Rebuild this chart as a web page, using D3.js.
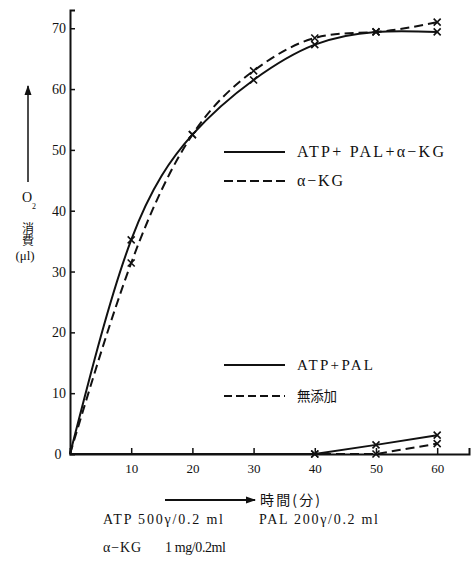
<!DOCTYPE html>
<html>
<head>
<meta charset="utf-8">
<script src="https://cdn.jsdelivr.net/npm/d3@7"></script>
<style>
  body { margin: 0; background: #fff; }
  svg text { fill: #111; }
  .serif { font-family: "Liberation Serif", "DejaVu Serif", serif; }
  .cjk { font-family: "Noto Sans CJK JP", sans-serif; }
</style>
</head>
<body>
<div id="graph"></div>
<script>
"use strict";

// measured time points (min)
let times = [0, 10, 20, 30, 40, 50, 60];
let fullValues = [0, 35.2, 52.5, 61.5, 67.3, 69.4, 69.4];   // ATP+PAL+α-KG
let akgValues = [0, 31.4, 52.5, 63.0, 68.4, 69.4, 71.0];    // α-KG
let lateTimes = [0, 40, 50, 60];
let atpPalValues = [0, 0, 1.5, 3.1];                        // ATP+PAL
let noneValues = [0, 0, 0, 1.7];                            // 無添加

let xTicks = [10, 20, 30, 40, 50, 60];
let yTicks = [10, 20, 30, 40, 50, 60, 70];

let width = 475;
let height = 563;

let translateStr = (x, y) => 'translate(' + x + ', ' + y + ')';

let x = d3.scaleLinear().domain([0, 65.2]).range([70, 469]);
let y = d3.scaleLinear().domain([0, 73]).range([454, 10]);

let svg = d3.select('#graph')
  .append('svg')
  .attr('width', width)
  .attr('height', height);

let defs = svg.append('defs');
defs.append('marker')
  .attr('id', 'head')
  .attr('viewBox', '0 0 10 10')
  .attr('refX', 9)
  .attr('refY', 5)
  .attr('markerWidth', 10)
  .attr('markerHeight', 10)
  .attr('markerUnits', 'userSpaceOnUse')
  .attr('orient', 'auto')
  .append('path')
  .attr('d', 'M0,1.5 L10,5 L0,8.5 Z')
  .attr('fill', '#111');

// axes
let xAxis = svg.append('g')
  .attr('transform', translateStr(0, y(0)))
  .call(d3.axisBottom(x).tickValues(xTicks).tickSize(-6).tickPadding(10).tickFormat(d3.format('d')));

let yAxis = svg.append('g')
  .attr('transform', translateStr(x(0), 0))
  .call(d3.axisLeft(y).tickValues(yTicks).tickSize(-5).tickPadding(4).tickFormat(d3.format('d')));

[xAxis, yAxis].forEach(g => {
  g.select('.domain').attr('stroke', '#111').attr('stroke-width', 2);
  g.selectAll('.tick line').attr('stroke', '#111').attr('stroke-width', 1.5);
  g.selectAll('.tick text')
    .attr('class', 'serif')
    .attr('fill', '#111');
});
xAxis.selectAll('.tick text').style('font-size', '13px');
yAxis.selectAll('.tick text').style('font-size', '14px');

svg.append('text')
  .attr('class', 'serif')
  .attr('x', x(0) - 12)
  .attr('y', y(0) + 5)
  .attr('text-anchor', 'middle')
  .style('font-size', '14px')
  .text('0');

// curves
let curveLine = d3.line()
  .x(d => x(d.t))
  .y(d => y(d.v))
  .curve(d3.curveNatural);

let straightLine = d3.line()
  .x(d => x(d.t))
  .y(d => y(d.v));

let series = [
  { t: times, v: fullValues, dash: null, gen: curveLine },
  { t: times, v: akgValues, dash: '9,5', gen: curveLine },
  { t: lateTimes, v: atpPalValues, dash: null, gen: straightLine },
  { t: lateTimes, v: noneValues, dash: '9,5', gen: straightLine }
];

series.forEach(s => {
  let pts = s.t.map((t, i) => ({ t: t, v: s.v[i] }));
  svg.append('path')
    .datum(pts)
    .attr('fill', 'none')
    .attr('stroke', '#111')
    .attr('stroke-width', 2)
    .attr('stroke-dasharray', s.dash)
    .attr('d', s.gen);

  let r = 3.5;
  svg.append('g')
    .selectAll('path')
    .data(pts.slice(1))
    .enter()
    .append('path')
    .attr('d', d => {
      let cx = x(d.t), cy = y(d.v);
      return 'M' + (cx - r) + ',' + (cy - r) + 'L' + (cx + r) + ',' + (cy + r) +
        'M' + (cx - r) + ',' + (cy + r) + 'L' + (cx + r) + ',' + (cy - r);
    })
    .attr('stroke', '#111')
    .attr('stroke-width', 1.6);
});

// legends
let legends = [
  { y: 152, dash: null, label: 'ATP+ PAL+α−KG', cls: 'serif', size: 16, len: 147 },
  { y: 181, dash: '9,4', label: 'α−KG', cls: 'serif', size: 16, len: 46 },
  { y: 365, dash: null, label: 'ATP+PAL', cls: 'serif', size: 15, len: 76 },
  { y: 396, dash: '8,4', label: '無添加', cls: 'cjk', size: 13.5, len: 40 }
];

legends.forEach(l => {
  svg.append('line')
    .attr('x1', 224).attr('x2', 285)
    .attr('y1', l.y).attr('y2', l.y)
    .attr('stroke', '#111')
    .attr('stroke-width', 2)
    .attr('stroke-dasharray', l.dash);
  svg.append('text')
    .attr('class', l.cls)
    .attr('x', 297)
    .attr('y', l.y + 5)
    .attr('textLength', l.len)
    .attr('lengthAdjust', 'spacing')
    .style('font-size', l.size + 'px')
    .text(l.label);
});

// y axis title
svg.append('line')
  .attr('x1', 28).attr('x2', 28)
  .attr('y1', 182).attr('y2', 86)
  .attr('stroke', '#111')
  .attr('stroke-width', 1.5)
  .attr('marker-end', 'url(#head)');

svg.append('text')
  .attr('class', 'serif')
  .attr('x', 27).attr('y', 202)
  .attr('text-anchor', 'middle')
  .style('font-size', '14px')
  .text('O');
svg.append('text')
  .attr('class', 'serif')
  .attr('x', 34).attr('y', 209)
  .attr('text-anchor', 'middle')
  .style('font-size', '8px')
  .text('2');
svg.append('text')
  .attr('class', 'cjk')
  .attr('x', 28).attr('y', 222)
  .attr('text-anchor', 'start')
  .style('writing-mode', 'vertical-rl')
  .style('text-orientation', 'upright')
  .style('font-size', '12px')
  .text('消費');
svg.append('text')
  .attr('class', 'serif')
  .attr('x', 25).attr('y', 260)
  .attr('text-anchor', 'middle')
  .style('font-size', '13px')
  .text('(μl)');

// x axis title
svg.append('line')
  .attr('x1', 165).attr('x2', 255)
  .attr('y1', 500).attr('y2', 500)
  .attr('stroke', '#111')
  .attr('stroke-width', 2)
  .attr('marker-end', 'url(#head)');

svg.append('text')
  .attr('class', 'cjk')
  .attr('x', 260).attr('y', 505)
  .attr('textLength', 60)
  .attr('lengthAdjust', 'spacing')
  .style('font-size', '14px')
  .text('時間(分)');

// notes
let notes = [
  { x: 103, y: 524, label: 'ATP 500γ/0.2 ml', size: 14, len: 120 },
  { x: 259, y: 524, label: 'PAL 200γ/0.2 ml', size: 14, len: 119 },
  { x: 103, y: 552, label: 'α−KG', size: 14, len: 38 },
  { x: 165, y: 552, label: '1 mg/0.2ml', size: 14, len: 61 }
];

notes.forEach(n => {
  svg.append('text')
    .attr('class', 'serif')
    .attr('x', n.x).attr('y', n.y)
    .attr('textLength', n.len)
    .attr('lengthAdjust', 'spacing')
    .style('font-size', n.size + 'px')
    .text(n.label);
});
</script>
</body>
</html>
